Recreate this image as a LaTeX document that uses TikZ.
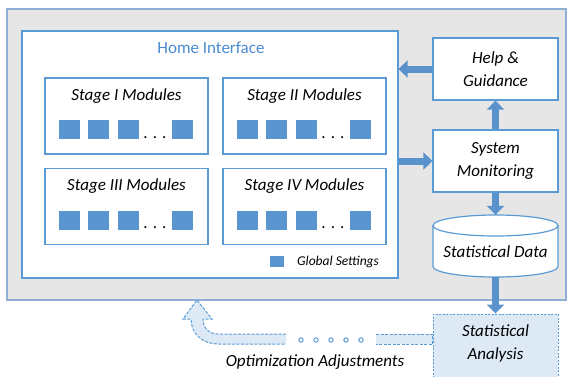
\documentclass[tikz,border=0pt]{standalone}
\usepackage{fontspec}
\setmainfont{Carlito}
\usetikzlibrary{arrows.meta}
\definecolor{bord}{HTML}{5B9BD5}
\definecolor{sq}{HTML}{5B95CF}
\definecolor{arr}{HTML}{5A92CC}
\definecolor{bggray}{HTML}{E6E6E6}
\definecolor{outerb}{HTML}{8FAFD6}
\definecolor{lightb}{HTML}{DDEAF6}
\definecolor{titleblue}{HTML}{4A8BD0}
\tikzset{
  box/.style={draw=bord, fill=white, line width=1.2pt, inner sep=0pt},
  lbl/.style={font=\fontsize{17}{23}\selectfont\itshape, align=center, inner sep=0pt},
  sqr/.style={fill=sq, minimum width=21pt, minimum height=19pt, inner sep=0pt},
  fat/.style={draw=arr, line width=7pt, -{Triangle[length=9pt,width=17pt]}},
  dashline/.style={draw=bord, line width=1pt, dash pattern=on 3pt off 1.5pt},
}
\begin{document}
\begin{tikzpicture}[x=1pt,y=-1pt]
\useasboundingbox (0,0) rectangle (567,376);
% outer system area
\node[draw=outerb, fill=bggray, line width=1.2pt, minimum width=559pt, minimum height=291pt, inner sep=0pt] (sys) at (286.5,154.5) {};
% home interface
\node[box, minimum width=376pt, minimum height=247pt] (home) at (210,154.5) {};
\node[font=\fontsize{17}{20}\selectfont, text=titleblue, inner sep=0pt] (title) at (211,48) {Home Interface};
% stage boxes
\foreach \nm/\cx/\cy/\txt in {s1/126.5/116/Stage I Modules, s2/304.5/116/Stage II Modules, s3/126.5/206.5/Stage III Modules, s4/304.5/206.5/Stage IV Modules}{
  \node[box, minimum width=163pt, minimum height=76pt] (\nm) at (\cx,\cy) {};
  \node[lbl] (\nm-t) at (\cx,\cy-20) {\txt};
  \node[sqr] (\nm-a) at (\cx-57,\cy+13.5) {};
  \node[sqr] (\nm-b) at (\cx-28,\cy+13.5) {};
  \node[sqr] (\nm-c) at (\cx+2,\cy+13.5) {};
  \node[sqr] (\nm-d) at (\cx+56,\cy+13.5) {};
  \node[font=\fontsize{17}{20}\selectfont, anchor=base, inner sep=0pt] (\nm-dots) at (\cx+28.5,\cy+22) {. . .};
}
% global settings
\node[fill=sq, minimum width=14pt, minimum height=11pt, inner sep=0pt] (gsq) at (277,261.5) {};
\node[font=\fontsize{13.5}{16}\selectfont\itshape, anchor=west, inner sep=0pt] (gs) at (297,262) {Global Settings};
% right column
\node[box, minimum width=125pt, minimum height=62pt, lbl] (help) at (495.5,69) {Help \&\\Guidance};
\node[box, minimum width=125pt, minimum height=62pt, lbl] (sysmon) at (495.5,161) {System\\Monitoring};
% database cylinder
\node[minimum width=125pt, minimum height=62pt, inner sep=0pt] (db) at (495.5,246) {};
\fill[white] (433,225.5) -- (433,266.5) arc[start angle=180, end angle=360, x radius=62.5, y radius=-10.5] -- (558,225.5) arc[start angle=0, end angle=180, x radius=62.5, y radius=-10.5] -- cycle;
\draw[bord, line width=1.2pt] (433,225.5) -- (433,266.5) arc[start angle=180, end angle=360, x radius=62.5, y radius=-10.5] -- (558,225.5);
\draw[bord, line width=1.2pt] (495.5,225.5) ellipse[x radius=62.5, y radius=10.5];
\node[lbl] (dbt) at (495.5,252) {Statistical Data};
% analysis
\node[draw=bord, fill=lightb, line width=1pt, dash pattern=on 2pt off 1.5pt, minimum width=125pt, minimum height=66pt, inner sep=0pt] (ana) at (495.5,347) {};
\node[lbl] (anat) at (495.5,343) {Statistical\\Analysis};
% fat arrows
\draw[fat] (help.west) -- (home.east |- help.west);
\draw[fat] (home.east |- sysmon.west) -- (sysmon.west);
\draw[fat] (sysmon.north) -- (help.south);
\draw[fat] (sysmon.south) -- (db.north);
\draw[fat] (db.south) -- (ana.north);
% dashed feedback arrow
\coordinate (fbtip) at (197,300);
\fill[lightb] (286,334) -- (218,334) .. controls (209,334) and (203,328) .. (203,319) -- (212,319) -- (fbtip) -- (183,319) -- (191,319) .. controls (191,334) and (203,344) .. (218,344) -- (286,344) -- cycle;
\draw[dashline] (286,334) -- (218,334) .. controls (209,334) and (203,328) .. (203,319) -- (212,319) -- (fbtip) -- (183,319) -- (191,319) .. controls (191,334) and (203,344) .. (218,344) -- (286,344);
\fill[lightb] (376,334) rectangle (ana.west |- 0,344);
\draw[dashline] (376,334) -- (ana.west |- 0,334) -- (ana.west |- 0,344) -- (376,344);
\foreach \x in {301,316,331,346,361}{
  \draw[bord, line width=1pt] (\x,340) circle[radius=2.2];
}
\node[lbl] (opt) at (315,362) {Optimization Adjustments};
\end{tikzpicture}
\end{document}
